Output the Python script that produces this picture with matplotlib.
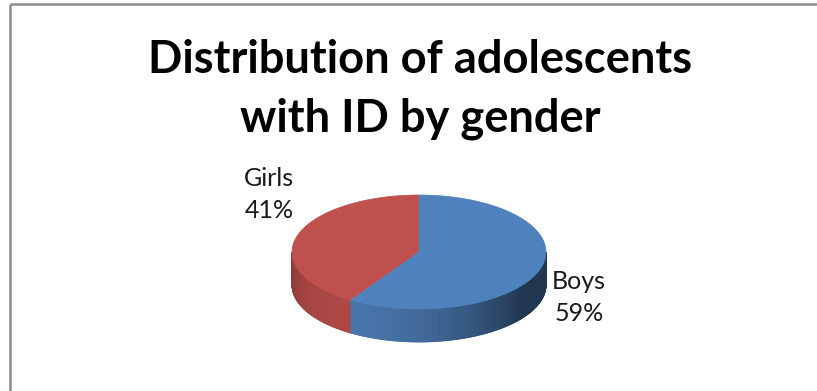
import numpy as np
import matplotlib
matplotlib.use("Agg")
import matplotlib.pyplot as plt
from matplotlib.patches import Polygon

# ---- data ----
title_lines = ["Distribution of adolescents", "with ID by gender"]
categories = ["Boys", "Girls"]
values = [59, 41]
colors = ["#4F81BD", "#C0504D"]

W, H = 817, 391
fig = plt.figure(figsize=(W / 100, H / 100), dpi=100)
ax = fig.add_axes([0, 0, 1, 1])
ax.set_xlim(0, W)
ax.set_ylim(H, 0)
ax.axis("off")

# frame (left and top borders)
ax.plot([10, 10], [391, 4], color="#8c8c8c", lw=1.8, solid_capstyle="butt")
ax.plot([10, 817], [4, 4], color="#8c8c8c", lw=1.8, solid_capstyle="butt")

# pie geometry (pixels)
cx, cy, a, b, depth = 419, 252, 127, 57, 33


def pt(t):
    return cx + a * np.cos(t), cy - b * np.sin(t)


def rgb(hexc):
    hexc = hexc.lstrip("#")
    return np.array([int(hexc[i:i + 2], 16) for i in (0, 2, 4)]) / 255.0


total = float(sum(values))
# Girls start at 12 o'clock going counter-clockwise, Boys continue
order = [1, 0]
start = 90.0
spans = {}
for i in order:
    ext = values[i] / total * 360.0
    spans[i] = (start, start + ext)
    start += ext

# sides
for i in order:
    s, e = spans[i]
    base = rgb(colors[i])
    for off in (0, -360, 360):
        lo = max(s + off, 180.0)
        hi = min(e + off, 360.0)
        if hi <= lo:
            continue
        n = int((hi - lo) * 2) + 2
        ts = np.linspace(lo, hi, n)
        for t1, t2 in zip(ts[:-1], ts[1:]):
            tm = np.radians((t1 + t2) / 2)
            k = 0.42 + 0.48 * max(0.0, np.cos(tm - np.radians(235)))
            c = np.clip(base * k, 0, 1)
            x1, y1 = pt(np.radians(t1))
            x2, y2 = pt(np.radians(t2))
            ax.add_patch(Polygon([(x1, y1), (x2, y2), (x2, y2 + depth), (x1, y1 + depth)],
                                 closed=True, facecolor=c, edgecolor=c, lw=0.6, zorder=2))

# top faces
for i in order:
    s, e = spans[i]
    ts = np.radians(np.linspace(s, e, 200))
    pts = [(cx, cy)] + [pt(t) for t in ts]
    ax.add_patch(Polygon(pts, closed=True, facecolor=colors[i], edgecolor=colors[i],
                         lw=0.5, zorder=3))

# title
fam = ["Lato", "DejaVu Sans"]
ax.text(420, 73, title_lines[0], ha="center", va="baseline", fontsize=32.6,
        fontweight="bold", family=fam, color="black")
ax.text(420, 131, title_lines[1], ha="center", va="baseline", fontsize=32.6,
        fontweight="bold", family=fam, color="black")

# data labels
label_pos = {1: (269, 186), 0: (579, 289)}
for i in order:
    x, y = label_pos[i]
    ax.text(x, y, categories[i], ha="center", va="baseline", fontsize=18,
            family=fam, color="#1a1a1a")
    ax.text(x, y + 32, f"{values[i] / total * 100:.0f}%", ha="center",
            va="baseline", fontsize=18, family=fam, color="#1a1a1a")

fig.savefig("out.png", dpi=100)
